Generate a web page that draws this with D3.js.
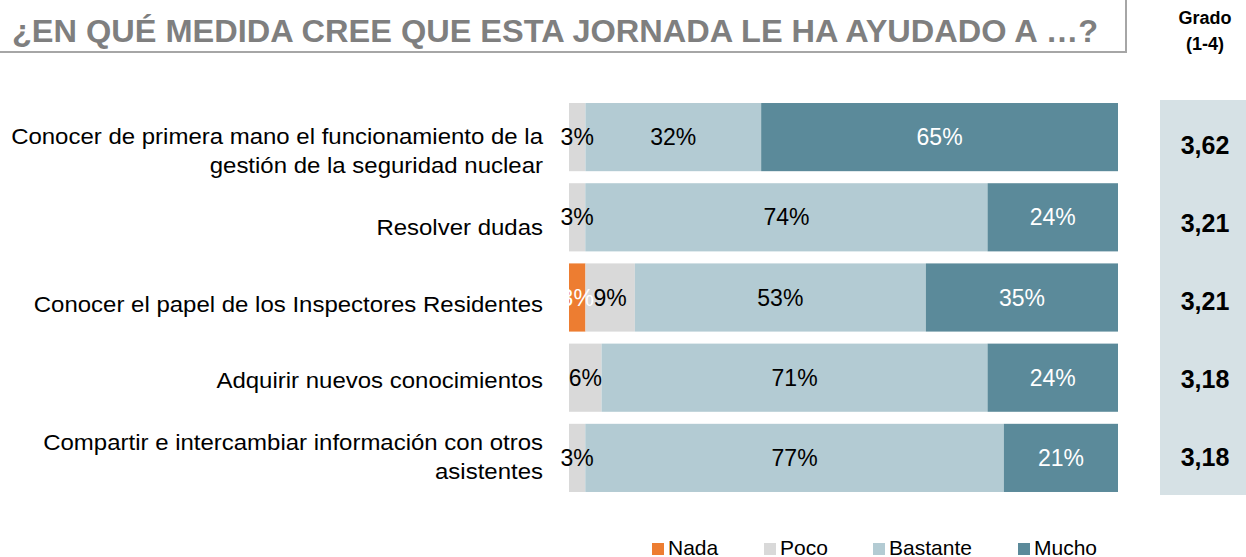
<!DOCTYPE html>
<html>
<head>
<meta charset="utf-8">
<script src="https://cdn.jsdelivr.net/npm/d3@7"></script>
<style>
  body { margin: 0; background: #fff; }
  svg { display: block; font-family: "Liberation Sans", Arial, sans-serif; }
</style>
</head>
<body>
<div id="chart"></div>
<script>
// data
var categories = [
  ["Conocer de primera mano el funcionamiento de la", "gestión de la seguridad nuclear"],
  ["Resolver dudas"],
  ["Conocer el papel de los Inspectores Residentes"],
  ["Adquirir nuevos conocimientos"],
  ["Compartir e intercambiar información con otros", "asistentes"]
];
var seriesNames = ["Nada", "Poco", "Bastante", "Mucho"];
var nada = [0, 0, 3, 0, 0];
var poco = [3, 3, 9, 6, 3];
var bastante = [32, 74, 53, 71, 77];
var mucho = [65, 24, 35, 24, 21];
var grado = ["3,62", "3,21", "3,21", "3,18", "3,18"];

var colors = ["#ED7D31", "#D9D9D9", "#B3CBD3", "#5B8A9A"];
var labelColors = ["#fff", "#000", "#000", "#fff"];

var W = 1246, H = 557;
var svg = d3.select("#chart").append("svg")
  .attr("width", W)
  .attr("height", H);

// title box
svg.append("rect")
  .attr("x", -5).attr("y", -5)
  .attr("width", 1131).attr("height", 57)
  .attr("fill", "#fff")
  .attr("stroke", "#a6a6a6")
  .attr("stroke-width", 2);

svg.append("text")
  .attr("x", 12).attr("y", 42)
  .attr("font-size", 31)
  .attr("font-weight", "bold")
  .attr("fill", "#7f7f7f")
  .attr("textLength", 1086)
  .attr("lengthAdjust", "spacingAndGlyphs")
  .text("¿EN QUÉ MEDIDA CREE QUE ESTA JORNADA LE HA AYUDADO A …?");

svg.append("text")
  .attr("x", 1205).attr("y", 24)
  .attr("text-anchor", "middle")
  .attr("font-size", 18).attr("font-weight", "bold")
  .text("Grado");
svg.append("text")
  .attr("x", 1205).attr("y", 50)
  .attr("text-anchor", "middle")
  .attr("font-size", 18).attr("font-weight", "bold")
  .text("(1-4)");

// build rows
var rows = categories.map(function(c, i) {
  var vals = [nada[i], poco[i], bastante[i], mucho[i]];
  var total = d3.sum(vals);
  var acc = 0;
  var segs = vals.map(function(v, k) {
    var s = {k: k, v: v, x0: acc / total, x1: (acc + v) / total};
    acc += v;
    return s;
  });
  return {i: i, label: c, segs: segs, grado: grado[i]};
});

var x = d3.scaleLinear().domain([0, 1]).range([569, 1118]);
var y = d3.scaleBand()
  .domain(d3.range(categories.length))
  .range([95, 500])
  .paddingInner(0.15).paddingOuter(0.1);
// category labels and grado sit on slightly tighter pitches than the bars
var yLab = d3.scalePoint()
  .domain(d3.range(categories.length))
  .range([151, 457]);
var yGrado = d3.scalePoint()
  .domain(d3.range(categories.length))
  .range([145, 457]);

// grado column
svg.append("rect")
  .attr("x", 1160).attr("y", 100)
  .attr("width", 86).attr("height", 395)
  .attr("fill", "#D6E1E5");

var row = svg.selectAll(".row")
  .data(rows)
  .enter().append("g")
  .attr("class", "row");

row.selectAll("rect")
  .data(function(d) { return d.segs.filter(function(s) { return s.v > 0; }).map(function(s) { s.row = d.i; return s; }); })
  .enter().append("rect")
  .attr("x", function(s) { return x(s.x0); })
  .attr("y", function(s) { return y(s.row); })
  .attr("width", function(s) { return x(s.x1) - x(s.x0); })
  .attr("height", y.bandwidth())
  .attr("fill", function(s) { return colors[s.k]; });

// labels after all rects
row.each(function(d) {
  var g = d3.select(this);
  var cy = y(d.i) + y.bandwidth() / 2;
  d.segs.forEach(function(s) {
    if (s.v <= 0) return;
    g.append("text")
      .attr("x", (x(s.x0) + x(s.x1)) / 2)
      .attr("y", cy)
      .attr("dy", "0.35em")
      .attr("text-anchor", "middle")
      .attr("font-size", 23)
      .attr("fill", labelColors[s.k])
      .text(s.v + "%");
  });
  var n = d.label.length;
  var lg = g.append("g")
    .attr("transform", "translate(543," + yLab(d.i) + ") scale(1.066,1)");
  d.label.forEach(function(line, j) {
    lg.append("text")
      .attr("x", 0)
      .attr("y", (j - (n - 1) / 2) * 29)
      .attr("dy", "0.35em")
      .attr("text-anchor", "end")
      .attr("font-size", 22.5)
      .attr("fill", "#000")
      .text(line);
  });
  g.append("text")
    .attr("x", 1205)
    .attr("y", yGrado(d.i))
    .attr("dy", "0.35em")
    .attr("text-anchor", "middle")
    .attr("font-size", 25)
    .attr("font-weight", "bold")
    .text(d.grado);
});

// legend
var legX = [652, 764, 873, 1018];
var leg = svg.selectAll(".leg")
  .data(seriesNames)
  .enter().append("g")
  .attr("class", "leg")
  .attr("transform", function(d, i) { return "translate(" + legX[i] + ",555)"; });
leg.append("rect")
  .attr("x", 0).attr("y", -12)
  .attr("width", 12).attr("height", 12)
  .attr("fill", function(d, i) { return colors[i]; });
leg.append("text")
  .attr("x", 16).attr("y", 0)
  .attr("font-size", 21)
  .text(function(d) { return d; });
</script>
</body>
</html>
